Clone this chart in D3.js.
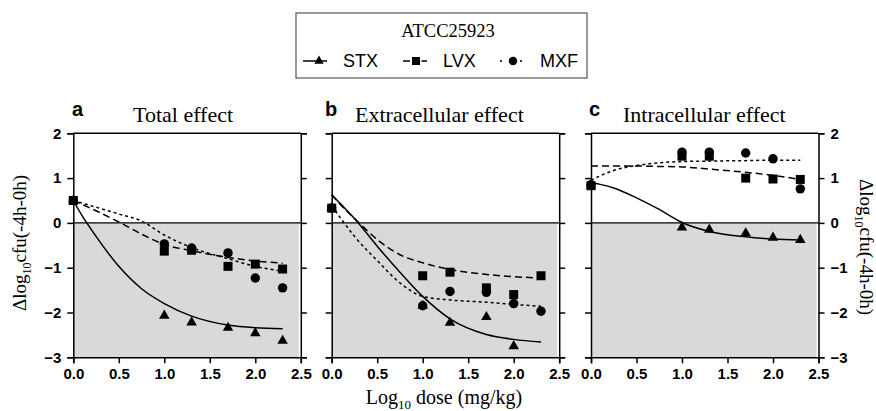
<!DOCTYPE html>
<html>
<head>
<meta charset="utf-8">
<script src="https://cdn.jsdelivr.net/npm/d3@7"></script>
<style>
  body { margin: 0; background: #fff; }
  svg { display: block; }
</style>
</head>
<body>
<svg width="876" height="411"></svg>
<script>
const svg = d3.select('svg');

// data
const drugs = ['STX', 'LVX', 'MXF'];
const doses = [0, 1.0, 1.3, 1.7, 2.0, 2.3];
const xTicks = [0, 0.5, 1.0, 1.5, 2.0, 2.5];
const yTicks = [2, 1, 0, -1, -2, -3];

const panelLetters = ['a', 'b', 'c'];
const panelTitles = ['Total effect', 'Extracellular effect', 'Intracellular effect'];

// measured points, one array per panel and drug
const stxPts = [
  [0.5, -2.07, -2.22, -2.34, -2.46, -2.63],
  [0.33, -1.85, -2.23, -2.1, -2.75, null],
  [0.83, -0.1, -0.15, -0.23, -0.33, -0.38]
];
const lvxPts = [
  [0.5, -0.63, -0.61, -0.97, -0.92, -1.03],
  [0.33, -1.18, -1.1, -1.45, -1.6, -1.18],
  [0.83, 1.49, 1.49, 1.0, 0.98, 0.97]
];
const mxfPts = [
  [0.5, -0.47, -0.56, -0.67, -1.23, -1.45],
  [0.33, -1.85, -1.53, -1.55, -1.8, -1.97],
  [0.85, 1.58, 1.58, 1.56, 1.43, 0.76]
];

// fitted curves, read at these doses
const curveX = [0, 0.1, 0.25, 0.5, 0.75, 1.0, 1.3, 1.7, 2.0, 2.3];
const stxFit = [
  [0.5, 0.15, -0.3, -0.97, -1.47, -1.8, -2.08, -2.28, -2.34, -2.36],
  [0.63, 0.42, 0.1, -0.52, -1.1, -1.64, -2.14, -2.49, -2.6, -2.66],
  [0.9, 0.86, 0.78, 0.56, 0.3, 0.01, -0.19, -0.31, -0.36, -0.38]
];
const lvxFit = [
  [0.5, 0.41, 0.27, 0.02, -0.25, -0.48, -0.62, -0.77, -0.85, -0.9],
  [0.63, 0.4, 0.1, -0.37, -0.71, -0.89, -1.04, -1.15, -1.2, -1.23],
  [1.27, 1.27, 1.27, 1.27, 1.26, 1.25, 1.2, 1.13, 1.06, 0.97]
];
const mxfFit = [
  [0.5, 0.44, 0.35, 0.2, 0.04, -0.27, -0.55, -0.8, -0.97, -1.08],
  [0.38, 0.1, -0.3, -0.84, -1.34, -1.64, -1.72, -1.77, -1.82, -1.86],
  [0.95, 1.05, 1.17, 1.28, 1.34, 1.37, 1.38, 1.39, 1.4, 1.4]
];

const panelLeft = [73.3, 331.7, 591];
const panelW = 227.5;
const plotTop = 133.3, plotBottom = 357.3;

const styles = {
  STX: { dash: null, symbol: d3.symbolTriangle, size: 48 },
  LVX: { dash: '7,4', symbol: d3.symbolSquare, size: 81 },
  MXF: { dash: '3,3', symbol: d3.symbolCircle, size: 70 }
};

const yScale = d3.scaleLinear().domain([-3, 2]).range([plotBottom, plotTop]);
const sans = 'Arial, "Liberation Sans", sans-serif';
const serif = '"Liberation Serif", "Times New Roman", serif';

panelLetters.forEach((letter, i) => {
  const x0 = panelLeft[i];
  const xScale = d3.scaleLinear().domain([0, 2.5]).range([x0, x0 + panelW]);
  const g = svg.append('g');

  // gray region below zero
  g.append('rect')
    .attr('x', xScale(0)).attr('y', yScale(0))
    .attr('width', xScale(2.5) - xScale(0) - 2)
    .attr('height', yScale(-3) - yScale(0))
    .attr('fill', '#d9d9d9');

  g.append('line')
    .attr('x1', xScale(0)).attr('x2', xScale(2.5))
    .attr('y1', yScale(0)).attr('y2', yScale(0))
    .attr('stroke', '#000').attr('stroke-width', 1.2);

  // top frame line
  g.append('line')
    .attr('x1', xScale(0)).attr('x2', xScale(2.5))
    .attr('y1', yScale(2)).attr('y2', yScale(2))
    .attr('stroke', '#000').attr('stroke-width', 1.5);

  const xAxis = g.append('g')
    .attr('transform', `translate(0,${plotBottom})`)
    .call(d3.axisBottom(xScale).tickValues(xTicks).tickFormat(d3.format('.1f')).tickSizeOuter(0).tickSize(6).tickPadding(5));

  const leftAxis = g.append('g')
    .attr('transform', `translate(${x0},0)`)
    .call(d3.axisLeft(yScale).tickValues(yTicks).tickSizeOuter(0).tickSize(6).tickPadding(6)
      .tickFormat(i === 0 ? d3.format('d') : ''));

  const rightAxis = g.append('g')
    .attr('transform', `translate(${x0 + panelW},0)`)
    .call(d3.axisRight(yScale).tickValues(yTicks).tickSizeOuter(0).tickSize(6).tickPadding(6)
      .tickFormat(i === 2 ? d3.format('d') : ''));

  [xAxis, leftAxis, rightAxis].forEach(ax => {
    ax.select('.domain').attr('stroke', '#000').attr('stroke-width', 1.5);
    ax.selectAll('.tick line').attr('stroke', '#000').attr('stroke-width', 1.5);
    ax.selectAll('.tick text')
      .attr('fill', '#000')
      .style('font-family', sans)
      .style('font-weight', 'bold')
      .style('font-size', '15px');
  });

  // curves
  const fits = { STX: stxFit[i], LVX: lvxFit[i], MXF: mxfFit[i] };
  const line = d3.line()
    .x(d => xScale(d[0]))
    .y(d => yScale(d[1]))
    .curve(d3.curveMonotoneX);
  ['LVX', 'MXF', 'STX'].forEach(k => {
    g.append('path')
      .datum(curveX.map((x, j) => [x, fits[k][j]]))
      .attr('d', line)
      .attr('fill', 'none')
      .attr('stroke', '#000')
      .attr('stroke-width', 1.5)
      .attr('stroke-dasharray', styles[k].dash);
  });

  // points: squares on top
  const pts = { STX: stxPts[i], LVX: lvxPts[i], MXF: mxfPts[i] };
  ['STX', 'MXF', 'LVX'].forEach(k => {
    g.selectAll(null)
      .data(doses.map((x, j) => [x, pts[k][j]]).filter(d => d[1] !== null))
      .enter().append('path')
      .attr('d', d3.symbol().type(styles[k].symbol).size(styles[k].size))
      .attr('transform', d => `translate(${xScale(d[0])},${yScale(d[1])})`)
      .attr('fill', '#000');
  });

  // panel letter and title
  g.append('text')
    .attr('x', [72, 325, 589][i]).attr('y', 116)
    .style('font-family', sans)
    .style('font-weight', 'bold').style('font-size', '20px')
    .text(letter);
  g.append('text')
    .attr('x', [133, 355, 623][i]).attr('y', 122)
    .style('font-family', serif)
    .style('font-size', '22px')
    .text(panelTitles[i]);
});

// axis titles
const xt = svg.append('text')
  .attr('x', 444).attr('y', 404).attr('text-anchor', 'middle')
  .style('font-family', serif).style('font-size', '20px');
xt.append('tspan').text('Log');
xt.append('tspan').attr('dy', 5).style('font-size', '13px').text('10');
xt.append('tspan').attr('dy', -5).text(' dose (mg/kg)');

function yTitle(x, y, rot) {
  const t = svg.append('text')
    .attr('transform', `translate(${x},${y}) rotate(${rot})`)
    .attr('text-anchor', 'middle')
    .style('font-family', serif).style('font-size', '19px');
  t.append('tspan').text('Δlog');
  t.append('tspan').attr('dy', 5).style('font-size', '12px').text('10');
  t.append('tspan').attr('dy', -5).text('cfu(-4h-0h)');
}
yTitle(26, 243, -90);
yTitle(860, 247, 90);

// legend
svg.append('rect')
  .attr('x', 296).attr('y', 13).attr('width', 291).attr('height', 65)
  .attr('fill', '#fff').attr('stroke', '#555').attr('stroke-width', 1.2);
svg.append('text')
  .attr('x', 448).attr('y', 37).attr('text-anchor', 'middle')
  .style('font-family', serif).style('font-size', '18.5px')
  .text('ATCC25923');

const legendX = [303, 403, 500];
const legendTextX = [343, 443, 540];
drugs.forEach((k, j) => {
  const lx = legendX[j];
  svg.append('line')
    .attr('x1', lx).attr('x2', lx + 24)
    .attr('y1', 61).attr('y2', 61)
    .attr('stroke', '#000').attr('stroke-width', 1.5)
    .attr('stroke-dasharray', k === 'STX' ? null : k === 'LVX' ? '7,5,1.5,5' : '2,8');
  svg.append('path')
    .attr('d', d3.symbol().type(styles[k].symbol).size(styles[k].size * 0.8))
    .attr('transform', `translate(${lx + (k === 'STX' ? 16 : 13)},61)`)
    .attr('fill', '#000');
  svg.append('text')
    .attr('x', legendTextX[j]).attr('y', 67)
    .style('font-family', sans)
    .style('font-size', '18px')
    .text(k);
});
</script>
</body>
</html>
